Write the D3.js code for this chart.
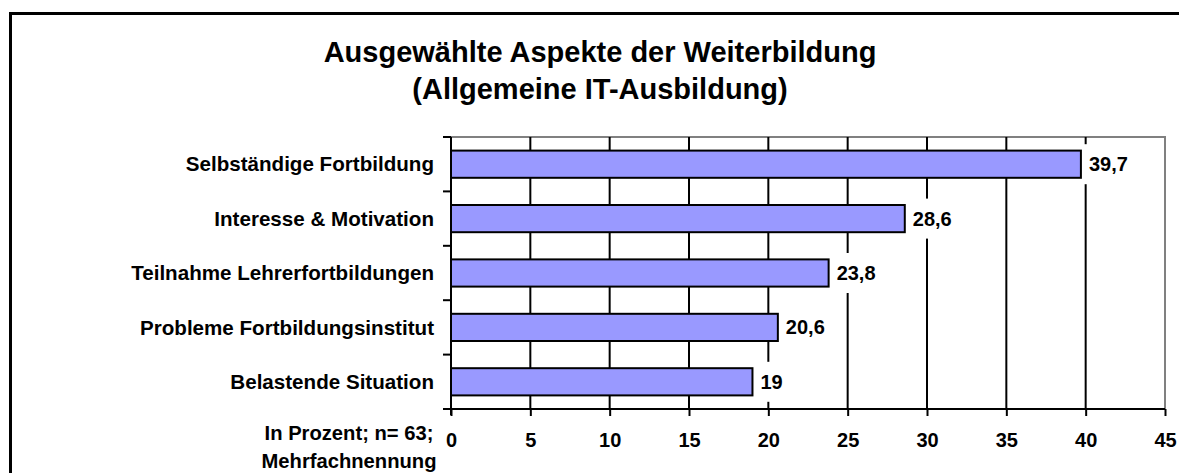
<!DOCTYPE html>
<html>
<head>
<meta charset="utf-8">
<script src="https://cdn.jsdelivr.net/npm/d3@7"></script>
<style>
  html, body { margin: 0; background: #fff; overflow: hidden; }
  svg { display: block; overflow: hidden; font-family: "Liberation Sans", Arial, sans-serif; font-weight: bold; }
</style>
</head>
<body>
<svg id="chart" width="1179" height="473"></svg>
<script>
// data
var categories = ["Selbständige Fortbildung", "Interesse & Motivation", "Teilnahme Lehrerfortbildungen",
                  "Probleme Fortbildungsinstitut", "Belastende Situation"];
var values = [39.7, 28.6, 23.8, 20.6, 19];
var valueLabels = ["39,7", "28,6", "23,8", "20,6", "19"];
var xTicks = [0, 5, 10, 15, 20, 25, 30, 35, 40, 45];
var titleLines = ["Ausgewählte Aspekte der Weiterbildung", "(Allgemeine IT-Ausbildung)"];
var noteLines = ["In Prozent; n= 63;", "Mehrfachnennung"];

function drawChart() {
  var svg = d3.select("#chart");

  // outer frame: only left and top sides are inside the picture
  svg.append("path")
    .attr("d", "M10.5,480V13.5H1185")
    .attr("fill", "none").attr("stroke", "#000").attr("stroke-width", 3);

  var pLeft = 451, pRight = 1165, pTop = 137, pBottom = 409;

  var x = d3.scaleLinear().domain([0, 45]).range([pLeft, pRight]);
  var y = d3.scaleBand().domain(categories).range([pTop, pBottom])
    .paddingInner(0.5).paddingOuter(0.25);
  var step = (pBottom - pTop) / categories.length;

  // plot border top/right in grey
  svg.append("path")
    .attr("d", "M" + pLeft + "," + pTop + "H" + pRight + "V" + pBottom)
    .attr("fill", "none").attr("stroke", "#808080").attr("stroke-width", 2);

  // gridlines
  svg.append("g").selectAll("line")
    .data(xTicks.filter(d => d > 0 && d < 45))
    .enter().append("line")
    .attr("x1", d => x(d)).attr("x2", d => x(d))
    .attr("y1", pTop).attr("y2", pBottom)
    .attr("stroke", "#000").attr("stroke-width", 2);

  // bars
  svg.append("g").selectAll("rect")
    .data(values)
    .enter().append("rect")
    .attr("x", x(0))
    .attr("y", (d, i) => y(categories[i]))
    .attr("width", d => x(d) - x(0))
    .attr("height", y.bandwidth())
    .attr("fill", "#9999FF")
    .attr("stroke", "#000").attr("stroke-width", 2);

  // x axis
  var xAxis = d3.axisBottom(x).tickValues(xTicks).tickSize(7).tickPadding(17);
  var gx = svg.append("g").attr("transform", "translate(0," + pBottom + ")").call(xAxis);
  gx.select(".domain").attr("d", "M" + (pLeft - 8) + ",0H" + pRight).attr("stroke-width", 2);
  gx.selectAll(".tick line").attr("stroke-width", 2);
  gx.selectAll(".tick text").attr("font-size", 20).attr("fill", "#000");
  gx.attr("font-family", null).attr("font-size", null);

  // y axis line + ticks at category boundaries
  svg.append("line")
    .attr("x1", pLeft).attr("x2", pLeft).attr("y1", pTop).attr("y2", pBottom + 6)
    .attr("stroke", "#000").attr("stroke-width", 2);
  svg.append("g").selectAll("line")
    .data(d3.range(categories.length + 1))
    .enter().append("line")
    .attr("x1", pLeft - 8).attr("x2", pLeft)
    .attr("y1", i => pTop + i * step).attr("y2", i => pTop + i * step)
    .attr("stroke", "#000").attr("stroke-width", 2);

  // category labels
  svg.append("g").selectAll("text")
    .data(categories)
    .enter().append("text")
    .attr("x", 434)
    .attr("y", d => y(d) + y.bandwidth() / 2)
    .attr("dy", "0.35em")
    .attr("text-anchor", "end")
    .attr("font-size", 20.6)
    .text(d => d);

  // value labels with white box behind
  var lab = svg.append("g").selectAll("g")
    .data(values)
    .enter().append("g")
    .attr("transform", (d, i) => "translate(" + (x(d) + 8) + "," + (y(categories[i]) + y.bandwidth() / 2) + ")");
  lab.append("text")
    .attr("dy", "0.35em")
    .attr("font-size", 20)
    .text((d, i) => valueLabels[i]);
  lab.each(function() {
    var g = d3.select(this);
    var w = g.select("text").node().getComputedTextLength();
    g.insert("rect", "text")
      .attr("x", -5).attr("y", -20)
      .attr("width", w + 10).attr("height", 40)
      .attr("fill", "#fff");
  });

  // title
  svg.append("text")
    .attr("x", 600).attr("y", 62)
    .attr("text-anchor", "middle")
    .attr("font-size", 29)
    .selectAll("tspan")
    .data(titleLines)
    .enter().append("tspan")
    .attr("x", 600)
    .attr("dy", (d, i) => i === 0 ? 0 : 37)
    .text(d => d);

  // note under the category labels
  svg.append("text")
    .attr("x", 349).attr("y", 440)
    .attr("text-anchor", "middle")
    .attr("font-size", 20.2)
    .selectAll("tspan")
    .data(noteLines)
    .enter().append("tspan")
    .attr("x", 349)
    .attr("dy", (d, i) => i === 0 ? 0 : 28)
    .text(d => d);
}

drawChart();
</script>
</body>
</html>
